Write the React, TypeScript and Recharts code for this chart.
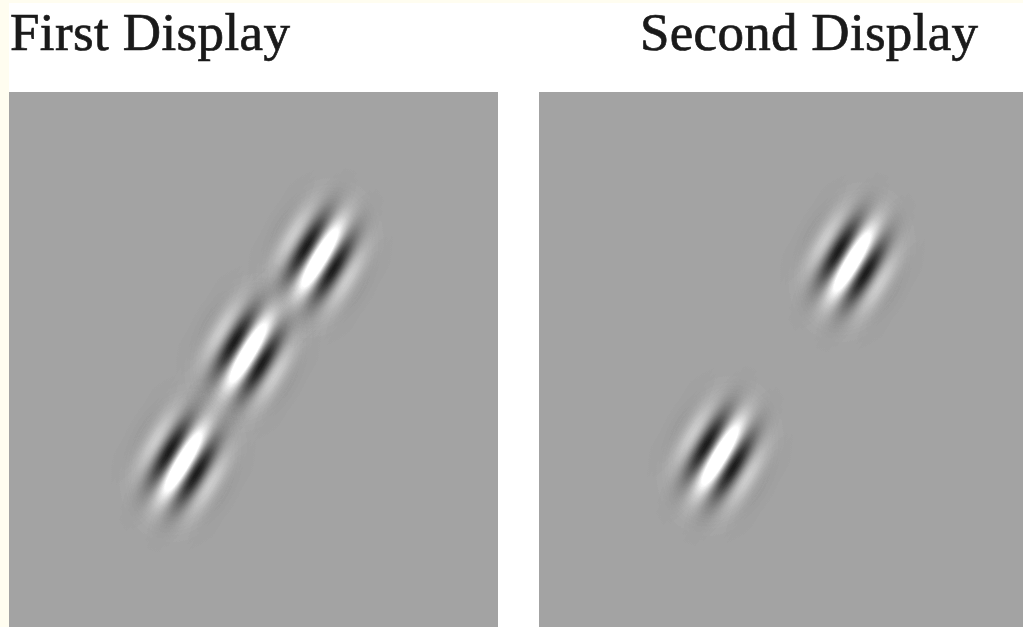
import React from 'react';
import { ScatterChart, Scatter, XAxis, YAxis, CartesianGrid } from 'recharts';

// ---- data ----
const panelTitles = ['First Display', 'Second Display'];
const firstDisplayX = [63.6, 48.9, 35.6];
const firstDisplayY = [69.0, 51.2, 30.8];
const secondDisplayX = [64.7, 37.4];
const secondDisplayY = [68.2, 32.0];

const firstData = firstDisplayX.map((x, i) => ({ x, y: firstDisplayY[i] }));
const secondData = secondDisplayX.map((x, i) => ({ x, y: secondDisplayY[i] }));

// ---- style constants ----
const GRAY = 164;
const PANEL_FILL = '#a4a4a4';
const WAVELENGTH = 38;
const STRIPE_NORMAL_DEG = 31;
const ENV_DEG = -70;
const SIGMA_MAJOR = 27;
const SIGMA_MINOR = 20;
const PRE_AMP = 85;
const CONTRAST = 2.4;
const ENV_EXTENT = 3.6;
const g01 = GRAY / 255;

function GaborShape(props: any) {
  const { panelId } = props;
  const cx = props.cx ?? (props.x + (props.width || 0) / 2);
  const cy = props.cy ?? (props.y + (props.height || 0) / 2);
  if (cx == null || cy == null || isNaN(cx) || isNaN(cy)) return null;
  const id = `${panelId}-${Math.round(cx)}-${Math.round(cy)}`;
  const stripeStops = Array.from({ length: 17 }, (_, i) => {
    const t = i / 16;
    const v = Math.round(GRAY + PRE_AMP * Math.cos(2 * Math.PI * t));
    return <stop key={i} offset={t} stopColor={`rgb(${v},${v},${v})`} />;
  });
  const envStops = Array.from({ length: 15 }, (_, i) => {
    const t = i / 14;
    const op = i === 14 ? 0 : Math.exp(-((ENV_EXTENT * t) ** 2) / 2);
    return <stop key={i} offset={t} stopColor="#ffffff" stopOpacity={op} />;
  });
  return (
    <g transform={`translate(${cx},${cy})`}>
      <defs>
        <linearGradient
          id={`stripes-${id}`}
          gradientUnits="userSpaceOnUse"
          x1={0}
          y1={0}
          x2={WAVELENGTH}
          y2={0}
          spreadMethod="repeat"
          gradientTransform={`rotate(${STRIPE_NORMAL_DEG})`}
        >
          {stripeStops}
        </linearGradient>
        <radialGradient id={`envg-${id}`} cx="0.5" cy="0.5" r="0.5">
          {envStops}
        </radialGradient>
        <mask id={`env-${id}`} maskUnits="userSpaceOnUse" x={-160} y={-160} width={320} height={320}>
          <rect
            transform={`rotate(${ENV_DEG})`}
            x={-ENV_EXTENT * SIGMA_MAJOR}
            y={-ENV_EXTENT * SIGMA_MINOR}
            width={2 * ENV_EXTENT * SIGMA_MAJOR}
            height={2 * ENV_EXTENT * SIGMA_MINOR}
            fill={`url(#envg-${id})`}
          />
        </mask>
      </defs>
      <rect x={-140} y={-140} width={280} height={280} fill={`url(#stripes-${id})`} mask={`url(#env-${id})`} />
    </g>
  );
}

function Panel({ left, width, marginLeft, marginRight, data, panelId }: any) {
  return (
    <div style={{ position: 'absolute', left, top: 0, width, height: 627, filter: 'url(#gaborContrast)' }}>
      <ScatterChart width={width} height={627} margin={{ top: 92, right: marginRight, bottom: 0, left: marginLeft }}>
        <CartesianGrid horizontal={false} vertical={false} fill={PANEL_FILL} fillOpacity={1} stroke="none" />
        <XAxis type="number" dataKey="x" domain={[0, 100]} hide />
        <YAxis type="number" dataKey="y" domain={[0, 100]} hide />
        <Scatter
          data={data}
          isAnimationActive={false}
          shape={(p: any) => <GaborShape {...p} panelId={panelId} />}
        />
      </ScatterChart>
    </div>
  );
}

export default function App() {
  return (
    <div
      style={{
        position: 'absolute',
        left: 0,
        top: 0,
        width: 1023,
        height: 627,
        overflow: 'hidden',
        background: '#fffdf0',
      }}
    >
      <svg width={0} height={0} style={{ position: 'absolute' }}>
        <defs>
          <filter id="gaborContrast" colorInterpolationFilters="sRGB" x="-5%" y="-5%" width="110%" height="110%">
            <feComponentTransfer>
              <feFuncR type="linear" slope={CONTRAST} intercept={-(CONTRAST - 1) * g01} />
              <feFuncG type="linear" slope={CONTRAST} intercept={-(CONTRAST - 1) * g01} />
              <feFuncB type="linear" slope={CONTRAST} intercept={-(CONTRAST - 1) * g01} />
            </feComponentTransfer>
          </filter>
        </defs>
      </svg>
      <div style={{ position: 'absolute', left: 9, top: 3, width: 1014, height: 624, background: '#ffffff' }} />
      <Panel left={0} width={510} marginLeft={9} marginRight={12} data={firstData} panelId="a" />
      <Panel left={530} width={493} marginLeft={9} marginRight={0} data={secondData} panelId="b" />
      <svg width={1023} height={90} style={{ position: 'absolute', left: 0, top: 0 }}>
        <text x={10} y={50} fontFamily="'Liberation Serif', 'DejaVu Serif', serif" fontSize={53} fill="#1a1a1a" stroke="#1a1a1a" strokeWidth={0.7} textLength={280}>
          {panelTitles[0]}
        </text>
        <text x={640} y={50} fontFamily="'Liberation Serif', 'DejaVu Serif', serif" fontSize={53} fill="#1a1a1a" stroke="#1a1a1a" strokeWidth={0.7} textLength={338}>
          {panelTitles[1]}
        </text>
      </svg>
    </div>
  );
}
